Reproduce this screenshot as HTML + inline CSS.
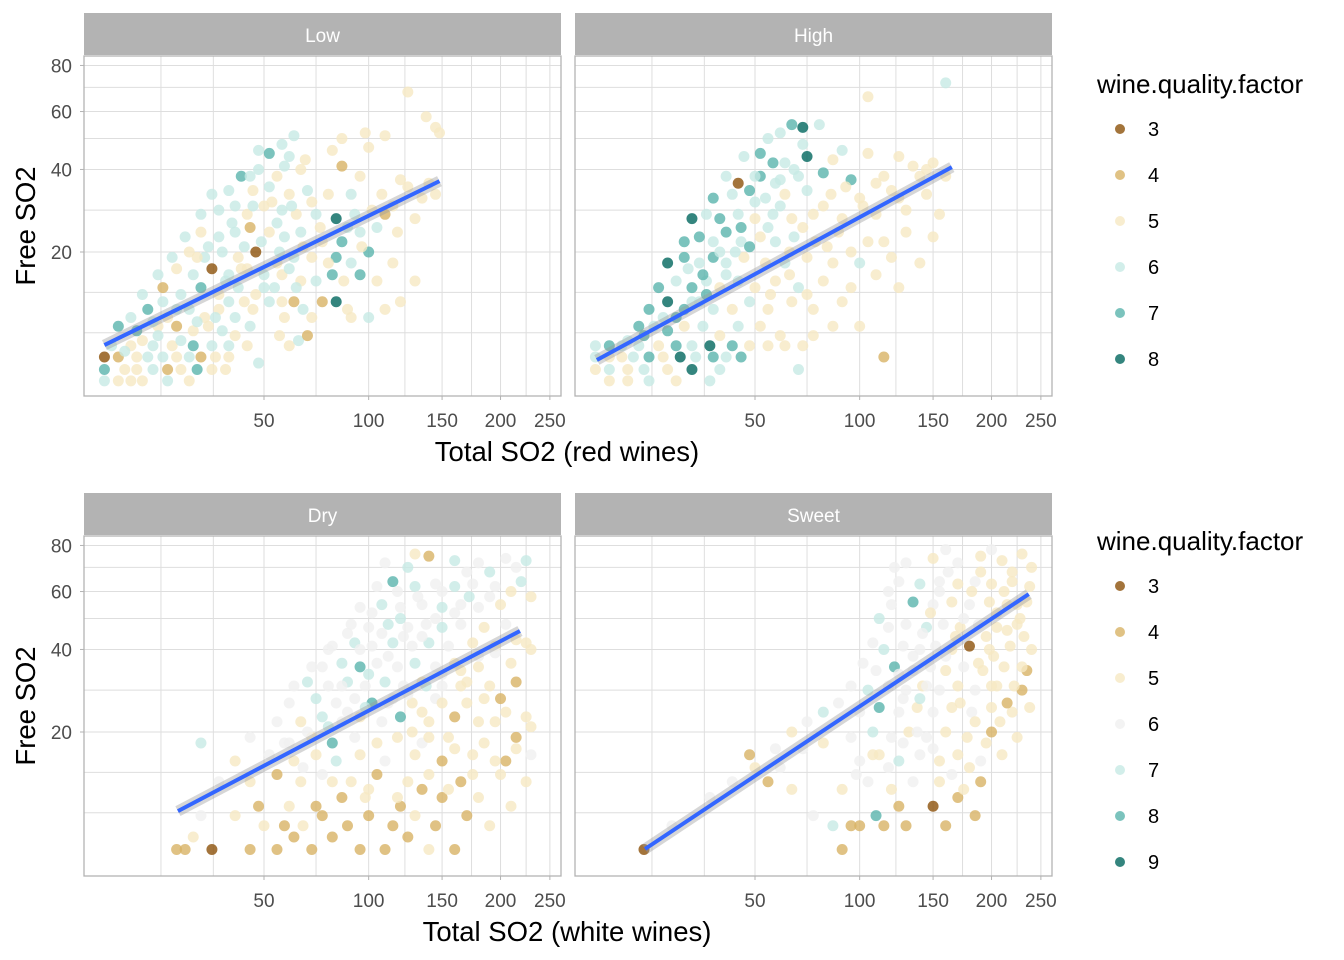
<!DOCTYPE html>
<html><head><meta charset="utf-8">
<style>
html,body{margin:0;padding:0;background:#fff;}
svg{display:block;font-family:"Liberation Sans",Arial,sans-serif;}
</style></head>
<body>
<svg id="chart" width="1344" height="960" viewBox="0 0 1344 960" xmlns="http://www.w3.org/2000/svg"></svg>
<script>
// ---- data ----
const xTickValues = [50, 100, 150, 200, 250];
const xTickLabels = ["50", "100", "150", "200", "250"];
const xGridValues = [20.6, 33.4, 50, 72, 100, 123, 150, 174, 200, 225, 250];
const yTickValues = [20, 40, 60, 80];
const yTickLabels = ["20", "40", "60", "80"];
const yGridValues = [8.3, 13.3, 20, 29, 40, 50, 60, 70, 80];
const redQualities = ["3", "4", "5", "6", "7", "8"];
const whiteQualities = ["3", "4", "5", "6", "7", "8", "9"];
const redColors = {3:"#8c510a",4:"#d8b365",5:"#f6e8c3",6:"#c7eae5",7:"#5ab4ac",8:"#01665e"};
const whiteColors = {3:"#8c510a",4:"#d8b365",5:"#f6e8c3",6:"#f0f0f0",7:"#c7eae5",8:"#5ab4ac",9:"#01665e"};
// regression endpoints [x1,y1,x2,y2] in data units
const fitLow = [11, 7.07, 148, 36.6];
const fitHigh = [11.2, 5.75, 165, 40.7];
const fitDry = [24.3, 8.47, 218.8, 45.8];
const fitSweet = [19.2, 5.04, 237, 59];
// points [total SO2, free SO2, quality]
const lowPoints = [[11,4.2,6],[13,4.2,5],[15,4.2,5],[17,4.2,5],[22,4.2,6],[27,4.2,5],
[11,5,7],[14,5,5],[16,5,5],[19,5,6],[22,5,4],[25,5,5],[29,5,7],[33,5,5],[37,5,5],
[11,6,3],[13,6,4],[16,6,5],[18,6,6],[21,6,6],[24,6,5],[27,6,6],[30,6,4],[34,6,5],[38,6,5],[48,5.5,6],
[12,7,6],[15,7,5],[19,7,6],[23,7,5],[28,7,7],[33,7,6],[38,7,6],[44,7,5],[60,7,5],
[13,9,7],[16,8.5,7],[20,9,5],[24,9,4],[28,8.5,5],[32,9,5],[36,8.5,6],[40,8,5],[45,9,6],[56,8,5],[64,7.5,6],[68,8,4],
[15,10,6],[18,11,7],[22,10,5],[27,11,6],[31,10,5],[35,11,5],[40,10,6],[46,11,5],[52,12,6],[58,10,5],[66,11,6],[70,10,5],[90,10,5],[100,10,6],[110,11,5],
[17,13,6],[21,14,4],[25,13,6],[30,14,7],[35,13,5],[41,14,6],[47,13,5],[54,14,6],[62,12,4],[75,12,4],[82,12,8],[88,11,5],[120,12,5],
[20,16,6],[24,17,5],[28,16,6],[33,17,3],[38,16,6],[44,17,5],[50,16,6],[57,16,5],[65,15,5],[72,15,6],[80,16,7],[86,15,5],[95,16,7],[105,15,5],[130,15,5],
[23,19,6],[27,20,5],[31,19,6],[36,20,6],[41,19,5],[47,20,3],[55,18,5],[62,19,6],[70,19,5],[82,19,7],[90,18,6],[100,20,7],[115,18,5],
[26,23,6],[30,24,5],[35,23,6],[40,24,6],[45,25,4],[52,24,5],[58,23,6],[65,24,6],[75,22,5],[85,22,7],[95,24,6],[105,25,6],
[30,28,6],[35,29,6],[40,30,6],[44,28,5],[50,30,5],[57,29,6],[63,28,5],[72,28,6],[82,27,8],[92,28,6],[110,28,4],[130,27,5],
[33,33,6],[38,34,6],[46,34,5],[52,35,6],[60,33,5],[68,34,6],[78,33,5],[90,33,6],[108,33,5],[125,35,5],[145,33,5],
[42,38,7],[48,40,6],[55,38,5],[65,40,5],[85,41,4],[95,38,5],[120,37,5],
[48,46,6],[52,45,7],[60,44,6],[67,43,5],[80,46,5],[100,47,5],[110,51,5],
[57,48,6],[62,51,6],[85,50,5],[98,52,5],[145,54,5],[148,52,5],[138,58,5],[125,68,5],
[14,6.5,6],[17,7.5,5],[20,8,6],[25,7.5,6],[29,9.5,6],[34,10,6],[38,12,6],[43,12,5],[37,15,6],[32,21,6],[29,19,5],[43,21,6],[49,22,6],[55,26,6],[46,30,6],[53,31,5],[61,30,6],[70,31,5],[39,26,6],[56,20,6],[60,17,6],[66,21,5],[74,25,5],[78,18,5],[96,21,5],[88,25,6],[102,29,5],[115,30,5],[118,24,5],[135,32,5],[140,36,5],[42,17,5],[50,14,6],[57,12,5],[63,14,6],[24,11,6],[21,12,6],[19,9.5,6],[45,38,6],[58,41,6]];
const highPoints = [[11,7,6],[13,7,7],[15,7,6],[18,7,6],[22,7,5],[26,7,7],[30,7,6],[35,7,8],[42,7,7],[48,7,5],[55,7,5],[62,7,5],[70,7,5],
[11,6,6],[13,6,5],[15,6,5],[17,6,6],[20,6,7],[23,6,5],[27,6,8],[31,6,6],[36,6,7],[40,6,6],[45,6,7],
[11,5,5],[13,5,6],[16,5,5],[19,5,6],[24,5,5],[30,5,8],[38,5,6],
[13,4.2,5],[16,4.2,5],[20,4.2,6],[26,4.2,5],[35,4.2,6],[68,5,6],
[18,9,7],[21,9,6],[24,8.5,7],[28,9,5],[33,9,6],[38,8,5],[44,9,6],[52,9,5],[60,8,5],[75,8,5],[85,9,5],[100,9,5],[115,6,4],
[20,11,7],[24,12,8],[28,11,7],[32,12,6],[36,11,6],[42,11,5],[48,12,6],[55,11,5],[65,12,5],[75,11,5],[90,12,5],
[22,14,7],[26,15,6],[30,14,7],[34,15,6],[38,14,5],[44,15,6],[50,14,5],[58,15,5],[68,14,6],[80,15,5],[95,14,5],[110,16,5],[125,14,5],
[24,18,8],[28,19,7],[32,18,6],[36,19,7],[40,18,6],[46,19,5],[54,18,5],[62,18,6],[72,19,5],[85,18,5],[100,18,6],[120,19,5],[140,18,5],
[28,22,7],[32,23,7],[36,22,6],[40,24,7],[45,22,6],[52,23,5],[58,22,6],[66,23,6],[76,22,5],[88,24,5],[105,22,5],[130,24,5],[150,23,5],
[30,27,8],[34,28,6],[38,27,7],[44,28,6],[50,27,5],[57,28,6],[65,27,5],[75,28,5],[90,27,5],[110,28,5],[130,29,5],[155,28,5],
[36,32,7],[42,33,6],[48,34,7],[54,32,6],[62,33,5],[72,34,6],[84,33,5],[100,32,5],[120,34,5],[145,33,5],
[40,38,6],[44,36,3],[52,38,7],[60,37,6],[68,38,6],[80,39,7],[95,37,7],[115,38,5],[140,38,5],
[46,44,6],[52,45,7],[62,42,6],[72,44,8],[85,43,5],[105,45,5],[125,44,5],[150,42,5],
[55,50,6],[60,52,6],[65,55,7],[70,54,8],[78,55,6],[105,66,5],[160,72,6],
[26,10,7],[30,12,6],[34,13,7],[40,16,6],[43,20,6],[48,21,7],[55,25,6],[60,30,6],[64,20,5],[70,25,5],[80,30,5],[92,35,5],[102,30,5],[110,36,5],[125,32,5],[135,41,5],[145,40,5],[160,38,5],[58,36,6],[66,40,6],[50,31,6],[45,25,7],[38,20,6],[33,16,7],[29,17,6],[23,10,6],[19,8,7],[16,7.5,6],[56,13,5],[64,16,5],[72,13,5],[82,21,5],[95,20,5],[115,22,5],[70,48,6],[90,46,6],[57,42,7],[50,38,6]];
const dryPoints = [[24,5,4],[26,5,4],[33,5,3],[28,6,5],[45,5,4],[55,5,4],[62,6,4],[70,5,4],[80,6,4],[95,5,4],[110,5,4],[125,6,4],[140,5,5],[160,5,4],
[50,7,5],[58,7,4],[66,7,5],[75,8,4],[88,7,4],[100,8,4],[115,7,4],[130,8,5],[145,7,4],[170,8,4],[190,7,5],
[30,8,6],[40,8,5],[48,9,4],[60,9,5],[72,9,4],[85,10,4],[98,10,5],[120,9,4],[150,10,4],[180,10,5],[210,9,5],
[35,12,6],[45,12,5],[55,13,4],[65,12,5],[75,13,6],[90,12,5],[105,13,4],[125,12,5],[140,13,5],[165,12,4],[200,13,5],[225,12,5],
[40,15,5],[52,16,6],[62,15,5],[72,16,5],[82,15,7],[95,16,5],[110,15,6],[130,16,5],[150,15,4],[175,16,5],[205,15,4],[230,16,6],
[30,18,7],[45,19,6],[60,18,6],[70,19,5],[80,18,8],[92,19,6],[105,18,5],[118,19,5],[135,18,6],[155,19,5],[185,18,5],[215,19,4],
[55,22,6],[65,22,5],[75,23,7],[85,22,6],[95,23,5],[108,22,6],[120,23,8],[140,22,5],[160,23,4],[195,22,5],[225,23,5],
[60,26,6],[72,27,7],[82,26,6],[92,27,6],[102,26,8],[115,27,6],[128,26,5],[145,27,6],[170,26,5],[200,27,4],
[68,31,7],[78,30,6],[88,31,7],[98,30,6],[110,31,7],[122,30,6],[135,31,5],[150,30,6],[170,31,5],[190,30,5],[215,31,4],
[75,35,6],[85,36,7],[95,35,8],[105,36,6],[118,35,6],[130,36,7],[145,35,6],[160,36,5],[180,35,5],[210,36,5],
[80,41,6],[92,42,7],[102,41,6],[115,42,7],[128,41,6],[140,42,7],[155,41,6],[175,42,5],[195,41,5],[225,42,5],
[90,48,6],[100,47,6],[112,48,7],[125,47,6],[138,48,6],[150,47,7],[165,48,6],[185,47,5],[205,48,6],
[95,54,6],[108,55,7],[120,54,6],[135,55,6],[150,54,7],[165,55,6],[180,54,6],[200,55,5],
[105,62,6],[115,64,8],[130,62,7],[145,63,6],[160,62,7],[175,63,6],[195,62,6],[220,64,7],
[110,72,6],[125,70,7],[140,75,4],[160,73,7],[180,72,6],[205,74,6],[225,73,7],[130,76,5],
[68,20,6],[78,21,7],[88,24,6],[98,25,7],[112,26,6],[125,28,6],[138,30,7],[150,33,6],[165,34,5],[180,38,6],[195,39,6],[215,43,5],[230,40,5],[100,33,7],[112,38,6],[122,44,6],[135,44,6],[145,50,6],[160,52,6],[172,58,7],[190,58,6],[210,60,5],[230,58,5],[85,30,6],[95,40,6],[108,45,6],[120,50,7],[132,58,6],[150,60,6],[170,68,6],[190,68,7],[215,70,6],[118,60,6],[102,52,6],[88,45,6],[78,40,6],[70,35,6],[62,30,6],[58,18,6],[66,14,6],[80,12,5],[100,11,5],[118,10,5],[135,11,4],[155,11,5],[175,13,5],[195,15,5],[215,17,5],[230,21,5],[205,24,5],[185,27,5],[165,30,5],[180,22,5],[160,17,5],[140,19,5],[128,20,5],[135,24,5],[150,26,5]];
const sweetPoints = [[19,5,3],[25,7,6],[55,12,4],[65,11,5],[48,16,4],[60,14,6],[70,17,6],[80,18,5],
[90,5,4],[85,7,7],[95,7,4],[100,7,4],[115,7,4],[130,7,4],[160,7,4],[75,8,6],[110,8,8],[125,9,4],[150,9,3],[185,8,4],[170,10,4],
[90,11,5],[105,12,6],[120,11,5],[135,12,6],[155,12,5],[175,11,5],[190,12,4],
[100,15,6],[112,16,5],[125,15,7],[140,16,6],[155,15,5],[170,16,5],[190,15,6],[210,16,5],
[95,19,6],[108,20,7],[120,19,6],[132,20,5],[145,19,6],[160,20,5],[178,19,5],[200,20,4],[225,19,5],
[100,24,6],[112,25,8],[125,24,6],[138,25,5],[150,24,6],[165,25,5],[182,24,6],[200,25,5],[220,24,5],[238,25,5],
[105,29,7],[118,30,6],[130,29,6],[142,30,5],[155,29,6],[170,30,5],[185,29,6],[205,30,5],[230,29,4],
[110,34,6],[122,35,8],[135,34,6],[148,35,6],[160,34,5],[175,35,6],[192,34,5],[212,35,5],[235,34,4],
[115,40,7],[128,41,6],[140,40,6],[152,41,6],[165,40,5],[180,41,3],[198,40,5],[218,41,5],[240,40,5],
[118,47,6],[130,48,6],[145,47,7],[158,48,6],[172,47,5],[188,48,6],[205,47,5],[225,48,5],
[120,55,6],[135,56,8],[150,55,6],[165,56,5],[180,55,6],[198,56,5],[215,55,5],[235,56,5],
[125,64,6],[140,63,7],[155,64,6],[170,63,5],[185,64,6],[200,63,5],[220,64,5],
[130,72,6],[150,74,5],[170,72,6],[190,75,5],[210,73,5],[230,76,5],[160,78,6],[200,78,6],
[35,10,6],[42,12,6],[50,14,5],[58,17,6],[65,20,5],[72,22,6],[80,24,7],[88,26,6],[95,30,6],[102,36,6],[108,42,6],[112,50,7],[118,60,6],[122,70,6],[128,27,6],[135,38,6],[142,45,6],[148,52,5],[155,60,6],[162,68,6],[168,44,5],[175,50,6],[182,60,5],[190,68,5],[195,44,5],[205,52,5],[212,60,5],[220,68,5],[228,50,5],[238,62,5],[232,44,5],[222,30,5],[208,22,5],[195,18,5],[180,14,5],[165,13,6],[150,17,6],[138,20,6],[128,18,6],[118,14,6],[108,16,5],[98,13,6],[145,30,6],[160,38,6],[172,26,5],[188,36,5],[202,38,5],[215,46,5],[225,55,5],[240,70,5],[185,22,5],[200,30,5],[215,26,4],[230,35,5],[140,27,7],[125,33,6]];

// ---- drawing ----
const NS = "http://www.w3.org/2000/svg";
const svg = document.getElementById("chart");
function mk(tag, attrs, parent) {
  const e = document.createElementNS(NS, tag);
  for (const k in attrs) e.setAttribute(k, attrs[k]);
  (parent || svg).appendChild(e);
  return e;
}
function xScale(v, left) { return left + 180 + (Math.cbrt(v) - Math.cbrt(50)) * 109.3; }
function yScale(v, top) { return top + 196 - (Math.cbrt(v) - Math.cbrt(20)) * 117; }

const panels = [
  {name:"low", label:"Low", left:84, top:56, pts:lowPoints, fit:fitLow, colors:redColors, yAxis:true},
  {name:"high", label:"High", left:575, top:56, pts:highPoints, fit:fitHigh, colors:redColors, yAxis:false},
  {name:"dry", label:"Dry", left:84, top:536, pts:dryPoints, fit:fitDry, colors:whiteColors, yAxis:true},
  {name:"sweet", label:"Sweet", left:575, top:536, pts:sweetPoints, fit:fitSweet, colors:whiteColors, yAxis:false}
];
const PW = 477, PH = 340;

panels.forEach(p => {
  const g = mk("g", {});
  
  
  const strip = mk("rect", {x:p.left, y:p.top-43, width:PW, height:42, fill:"#b3b3b3"}, g);
  
  
  const st = mk("text", {x:p.left+PW/2, y:p.top-14, "text-anchor":"middle", "font-size":"19", fill:"#ffffff"}, g);
  st.textContent = p.label;
  
  
  xGridValues.forEach(v => {
    const x = xScale(v, p.left);
    const l = mk("line", {x1:x, x2:x, y1:p.top, y2:p.top+PH, stroke:"#dedede", "stroke-width":1}, g);
    
    
  });
  yGridValues.forEach(v => {
    const y = yScale(v, p.top);
    const l = mk("line", {x1:p.left, x2:p.left+PW, y1:y, y2:y, stroke:"#dedede", "stroke-width":1}, g);
    
    
  });
  p.pts.forEach(d => {
    const c = mk("circle", {cx:xScale(d[0], p.left), cy:yScale(d[1], p.top), r:5.5, fill:p.colors[d[2]], "fill-opacity":0.8}, g);
    
    
  });
  const f = p.fit;
  const x1 = xScale(f[0], p.left), y1 = yScale(f[1], p.top), x2 = xScale(f[2], p.left), y2 = yScale(f[3], p.top);
  const band = mk("line", {x1, y1, x2, y2, stroke:"#999999", "stroke-opacity":0.4, "stroke-width":11}, g);
  
  
  const fl = mk("line", {x1, y1, x2, y2, stroke:"#3366ff", "stroke-width":4}, g);
  
  
  const b = mk("rect", {x:p.left, y:p.top, width:PW, height:PH, fill:"none", stroke:"#b3b3b3", "stroke-width":1.3}, g);
  
  
  xTickValues.forEach((v, i) => {
    const x = xScale(v, p.left);
    mk("line", {x1:x, x2:x, y1:p.top+PH, y2:p.top+PH+4, stroke:"#b3b3b3"}, g);
    const t = mk("text", {x:x, y:p.top+PH+31, "text-anchor":"middle", "font-size":"19", fill:"#4d4d4d"}, g);
    t.textContent = xTickLabels[i];
    
    
  });
  if (p.yAxis) {
    yTickValues.forEach((v, i) => {
      const y = yScale(v, p.top);
      mk("line", {x1:p.left-4, x2:p.left, y1:y, y2:y, stroke:"#b3b3b3"}, g);
      const t = mk("text", {x:p.left-12, y:y+7, "text-anchor":"end", "font-size":"19", fill:"#4d4d4d"}, g);
      t.textContent = yTickLabels[i];
      
      
    });
  }
});

[["Total SO2 (red wines)", 567, 461, "x-axis-title-red"], ["Total SO2 (white wines)", 567, 941, "x-axis-title-white"]].forEach(a => {
  const t = mk("text", {x:a[1], y:a[2], "text-anchor":"middle", "font-size":"27.5", fill:"#000"});
  t.textContent = a[0];
  
  
});
[[226, "y-axis-title-red"], [706, "y-axis-title-white"]].forEach(a => {
  const t = mk("text", {x:0, y:0, "text-anchor":"middle", "font-size":"27.5", fill:"#000", transform:"translate(35," + a[0] + ") rotate(-90)"});
  t.textContent = "Free SO2";
  
  
});

function legend(top, quals, colors, nm) {
  const g = mk("g", {});
  
  
  const t = mk("text", {x:1097, y:top, "font-size":"26", fill:"#000"}, g);
  t.textContent = "wine.quality.factor";
  
  
  quals.forEach((q, i) => {
    const y = top + 36 + i * 46;
    const c = mk("circle", {cx:1120, cy:y, r:5, fill:colors[q], "fill-opacity":0.8}, g);
    
    
    const l = mk("text", {x:1148, y:y+7, "font-size":"20", fill:"#000"}, g);
    l.textContent = q;
    
    
  });
}
legend(93, redQualities, redColors, "legend-red");
legend(550, whiteQualities, whiteColors, "legend-white");
</script>
</body></html>
